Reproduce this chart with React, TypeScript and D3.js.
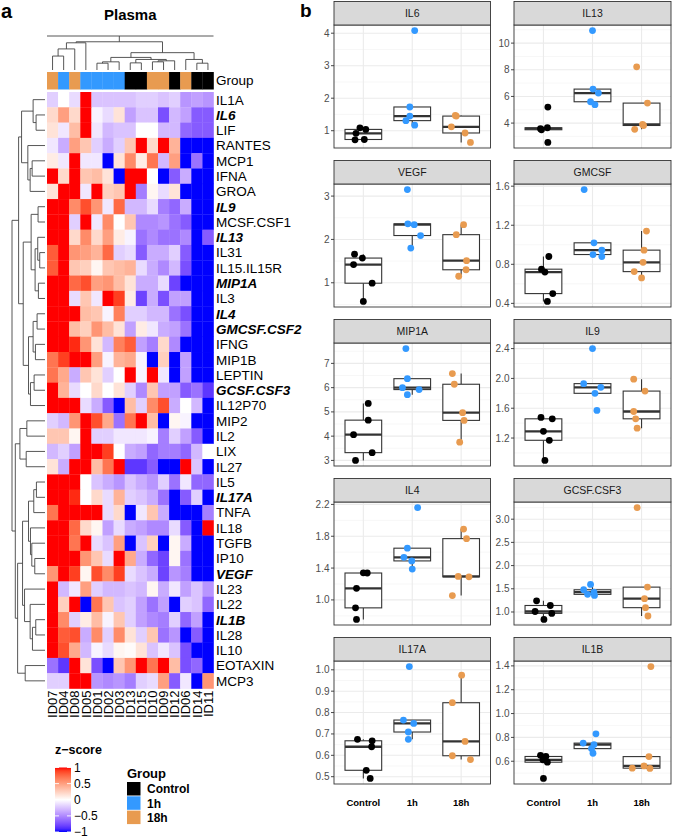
import React from "react";
import * as d3 from "d3";

const FONT = "'Liberation Sans', Arial, Helvetica, sans-serif";

// ---------------- Heatmap data ----------------
const rowNames = [
  "IL1A", "IL6", "LIF", "RANTES", "MCP1", "IFNA", "GROA", "IL9", "MCSF.CSF1", "IL13",
  "IL31", "IL15.IL15R", "MIP1A", "IL3", "IL4", "GMCSF.CSF2", "IFNG", "MIP1B", "LEPTIN", "GCSF.CSF3",
  "IL12P70", "MIP2", "IL2", "LIX", "IL27", "IL5", "IL17A", "TNFA", "IL18", "TGFB",
  "IP10", "VEGF", "IL23", "IL22", "IL1B", "IL28", "IL10", "EOTAXIN", "MCP3",
];
const boldRows = ["IL6", "IL9", "IL13", "MIP1A", "IL4", "GMCSF.CSF2", "GCSF.CSF3", "IL17A", "VEGF", "IL1B"];
const colNames = ["ID07", "ID04", "ID08", "ID05", "ID01", "ID02", "ID03", "ID13", "ID15", "ID10", "ID09", "ID12", "ID06", "ID14", "ID11"];
const colGroups = ["18h", "1h", "18h", "1h", "1h", "1h", "1h", "Control", "Control", "18h", "18h", "Control", "18h", "Control", "Control"];

const zScores = [
  [-0.2, 0, -0.15, 1, -0.25, -0.25, -0.25, -0.25, -0.2, -0.2, -0.25, -0.2, -0.45, -0.4, -0.45],
  [0.2, 0.5, 0.2, 1, -0.05, -0.15, 0.15, -0.4, -0.25, -0.25, -0.75, -0.3, -0.4, -0.7, -0.7],
  [0.15, -0.1, 0.35, 1, -0.1, -0.3, -0.25, -0.25, 0, 0, -0.3, -0.3, -0.65, -0.7, -0.7],
  [-0.1, -0.35, 0.5, 0.3, -0.2, -0.35, -0.2, 0.3, 1, 0.2, 1, 0.4, -1, -1, -1],
  [0.1, -0.1, 1, -0.1, -0.1, -1, 0.15, 0.6, 0.1, 0.7, -0.3, 0.5, -1, -0.6, -1],
  [1, 0.2, 1, 0.3, 0.35, 0.15, -1, 1, 1, 0, -1, -0.7, -0.35, -1, -1],
  [0.15, 1, 1, -0.1, 1, 0.25, 0.3, 1, -0.55, 0.05, -0.15, 0.15, -1, -1, -1],
  [1, 1, 0.6, 0.85, 0.55, -0.1, 0.75, -0.3, -0.3, -0.15, -0.55, -0.65, -0.35, -1, -1],
  [1, 1, -0.2, 1, -0.1, 0.6, 0, 0.3, -0.5, -0.5, -0.45, -0.6, -0.7, -1, -1],
  [1, 1, 0.2, 0.6, 0.2, 0.5, 0.1, -0.05, -0.6, -0.5, -0.6, -0.6, -0.5, -1, -0.7],
  [0.8, 1, 0.55, 0.5, 0.4, 0.75, -0.2, -0.15, -0.7, -0.35, -0.35, -0.2, -0.7, -1, -1],
  [0.8, 1, 0.3, 0.25, 0.05, 0.3, 0.35, 0.4, -0.15, -0.35, -0.5, -0.3, -0.75, -1, -1],
  [1, 1, 0.75, 0.85, 0.5, 0.55, 0.35, 0.15, -0.35, -0.35, -0.15, -0.8, -1, -1, -1],
  [1, 1, -0.15, 0.3, -0.1, 1, 0.9, 0.1, -0.8, -0.35, -0.75, -0.4, -0.4, -1, -1],
  [1, 1, 1, 0.35, 0.3, -0.05, 0.65, -0.2, -0.2, -0.3, -0.3, -0.6, -0.75, -1, -1],
  [1, 1, 0.35, 0.25, 0.55, 0.35, 0.15, -0.4, 0.1, -0.1, -0.35, -0.4, -0.6, -1, -1],
  [1, 1, 0.95, 0.55, 0.15, -0.3, 0.65, 0.8, -0.4, -0.55, 0.2, -0.5, -1, -1, -1],
  [0.7, 0.9, 1, 1, 0.5, -0.05, 0.4, 0.45, -0.05, -1, 0.25, -1, -0.4, -1, -1],
  [0.7, 0.45, -0.35, 0.3, 0.15, -0.2, 0, 1, -0.05, 1, -0.1, -1, -0.4, -1, -1],
  [1, 0.4, -0.15, 0, 0.2, 0, 0.15, -0.2, -0.5, 0.3, -0.4, -0.4, -0.7, -0.6, -0.85],
  [1, 1, 1, -0.15, -0.35, -0.7, -1, 0.35, -0.2, 0.6, 0.85, -0.35, 0, -0.3, -1],
  [-0.2, -0.3, 0.55, 1, 0.85, 0.45, -0.6, 0.7, 1, 0.35, -1, 0.05, -0.05, -1, -1],
  [0.3, 0.3, 0.05, 1, -0.2, -0.2, -0.1, -0.1, -0.1, -0.05, -0.55, -0.2, -0.4, -0.7, -1],
  [-0.3, -0.2, -0.4, 1, 1, 0.9, 0, -0.35, -0.4, -0.65, -0.55, -0.55, -0.65, -0.3, 0],
  [0.15, -0.35, 1, 1, 0.35, 0.7, 1, -0.85, -0.85, -0.7, -1, -1, 1, -0.25, -1],
  [1, 1, 1, 0, -0.25, -0.35, -0.45, -0.25, -0.35, -0.45, -0.2, -0.6, -0.1, -0.65, -0.65],
  [1, 1, 0.95, 0, 0.2, -0.15, 0.4, -0.2, -0.25, -0.35, -0.6, -1, -0.7, -0.2, -1],
  [0.7, 1, 1, 1, 1, -0.15, 0.2, -1, -0.1, 0.3, -0.35, -1, -1, -1, -0.55],
  [1, 1, 0.75, 0.2, 0.05, -0.4, -0.15, -0.35, -0.4, -0.5, -0.5, -0.15, -0.7, -1, 1],
  [1, 1, 0.7, 1, -0.15, -0.25, 0.5, -1, -0.25, 0.25, -1, 0.05, -0.35, -1, -1],
  [1, 1, 1, 0.55, 0.3, -0.15, 1, 0.45, -0.35, -0.65, -0.8, 0.05, -0.6, -1, -1],
  [0.55, 1, 0.9, 0.05, 0.85, 0.6, 0.9, -0.15, -0.25, -0.35, -0.8, -0.45, -0.55, -1, -1],
  [1, -0.3, -0.1, 0.5, -0.2, -0.3, -0.3, -0.25, -0.3, 0.05, -0.35, -0.1, -0.4, -0.25, -0.45],
  [1, 0.25, 1, -1, 0.7, 0.3, -0.25, -0.2, -0.4, -0.6, -0.4, -1, -0.2, -0.25, -0.65],
  [1, 0.6, -0.2, 0.1, 0.35, -0.05, 0.3, -0.2, -0.4, -0.5, -0.55, -0.2, -0.65, -0.4, -1],
  [1, 0.8, 0.85, -0.35, 0.6, -0.2, 0.6, 0.15, -0.2, 0.3, -0.6, -0.45, -1, -0.7, -1],
  [1, 0.85, 0.45, -0.3, -0.05, -0.15, 0.05, 0.02, 0.15, -0.25, -0.1, -0.25, -0.75, -1, -1],
  [-0.6, -0.85, 1, 0.15, -0.75, -1, 0.3, 0.55, 1, 0.7, 1, 0.35, -0.75, -0.65, -1],
  [-0.2, -0.2, 1, 1, -0.45, -0.5, -0.45, -0.55, -0.2, -0.15, 0.5, -0.7, -0.1, -1, 0.55],
];

// Dendrograms: [mergeHeight, left, right] or leaf name
type Tree = string | [number, Tree, Tree];
const rowTree: Tree = [10,
  [8.0,
    [7.1,
      [3.6, "IL1A", [2.7, "IL6", "LIF"]],
      [5.2, "RANTES", [4.5, [3.9, "MCP1", "IFNA"], "GROA"]]],
    [6.6,
      [4.2,
        [2.1, "IL9", "MCSF.CSF1"],
        [3.0, [2.2, "IL13", [1.6, "IL31", "IL15.IL15R"]], [2.0, "MIP1A", "IL3"]]],
      [5.0,
        [3.6, [2.4, "IL4", "GMCSF.CSF2"], [2.9, "IFNG", "MIP1B"]],
        [4.4, [3.3, "LEPTIN", "GCSF.CSF3"], "IL12P70"]]]],
  [9.0,
    [7.6, [5.5, "MIP2", "IL2"], [5.7, "LIX", "IL27"]],
    [8.3,
      [6.8,
        [5.0, [3.4, [2.6, "IL5", "IL17A"], "TNFA"], [4.4, "IL18", [4.0, "TGFB", [3.1, "IP10", "VEGF"]]]],
        [6.2, "IL23", [4.5, "IL22", [3.8, [2.8, "IL1B", "IL28"], "IL10"]]]],
      [6.0, "EOTAXIN", "MCP3"]]]];

const colTree: Tree = [8.3,
  [8.0, [6.2, [4.1, "ID07", "ID04"], "ID08"], "ID05"],
  [5.1,
    [3.7,
      [2.4, [2.0, "ID01", "ID02"], "ID03"],
      [3.1, [2.1, "ID13", "ID15"], [2.7, [2.4, "ID10", "ID09"], "ID12"]]],
    [3.1, "ID06", [2.0, "ID14", "ID11"]]]];
const colTreeTop = 10;

const groupNames = ["Control", "1h", "18h"];
const groupColors = ["#000000", "#3399FF", "#E89B50"];

const legendTicks = [1, 0.5, 0, -0.5, -1];

// ---------------- Boxplot data ----------------
const panelNames = ["IL6", "IL13", "VEGF", "GMCSF", "MIP1A", "IL9", "IL4", "GCSF.CSF3", "IL17A", "IL1B"];

const IL6_VALUES = [[1.09, 1.04, 0.92, 0.73, 0.72], [4.08, 1.73, 1.45, 1.31, 1.17], [1.47, 1.45, 1.12, 0.93, 0.64]];
const IL6_JITTER = [[-0.07, 0.05, -0.15, 0.02, -0.17], [0.05, -0.05, -0.05, -0.13, 0.05], [-0.12, -0.1, -0.2, 0.08, 0.19]];
const IL6_TICKS = [1, 2, 3, 4];

const IL13_VALUES = [[5.2, 3.65, 3.58, 3.5, 2.55], [10.94, 6.55, 6.25, 5.6, 5.38], [8.22, 5.5, 3.9, 3.82, 3.53]];
const IL13_JITTER = [[0.09, 0.08, -0.06, -0.04, 0.09], [0, 0.01, 0.12, -0.04, 0.05], [-0.1, 0.12, 0.02, 0.04, -0.14]];
const IL13_TICKS = [4, 6, 8, 10];

const VEGF_VALUES = [[1.66, 1.57, 1.42, 0.99, 0.57], [3.15, 2.36, 2.34, 2.09, 1.8], [2.34, 2.11, 1.51, 1.3, 1.15]];
const VEGF_JITTER = [[-0.18, -0.02, -0.2, 0.18, 0], [-0.1, -0.09, 0.04, 0.17, -0.03], [0.05, -0.1, 0.11, 0.1, -0.05]];
const VEGF_TICKS = [1, 2, 3];

const GMCSF_VALUES = [[0.88, 0.75, 0.72, 0.5, 0.42], [1.565, 1.02, 0.945, 0.9, 0.88], [1.14, 0.945, 0.82, 0.725, 0.66]];
const GMCSF_JITTER = [[0.11, -0.04, 0.03, 0.19, 0.08], [-0.17, 0.03, 0.19, 0.01, 0.19], [0.1, 0.05, 0.03, -0.15, 0]];
const GMCSF_TICKS = [0.4, 0.8, 1.2, 1.6];

const MIP1A_VALUES = [[5.35, 4.66, 4.06, 3.32, 3.0], [7.61, 6.37, 6.0, 5.92, 5.71], [6.58, 6.14, 4.97, 4.65, 3.75]];
const MIP1A_JITTER = [[0.1, 0.1, -0.2, 0.18, -0.16], [-0.13, -0.1, -0.2, 0.14, -0.1], [-0.18, -0.14, 0.03, 0.06, -0.03]];
const MIP1A_TICKS = [3, 4, 5, 6, 7];

const IL9_VALUES = [[1.476, 1.458, 1.29, 1.17, 0.9], [2.4, 1.93, 1.88, 1.8, 1.57], [1.99, 1.83, 1.556, 1.458, 1.333]];
const IL9_JITTER = [[-0.05, 0.18, 0, 0.12, 0.03], [0, -0.18, 0.17, 0.05, 0.09], [-0.16, 0.07, -0.16, -0.12, -0.09]];
const IL9_TICKS = [1.2, 1.6, 2.0, 2.4];

const IL4_VALUES = [[1.34, 1.338, 1.145, 0.9, 0.755], [2.16, 1.65, 1.535, 1.49, 1.387], [1.89, 1.77, 1.295, 1.29, 1.054]];
const IL4_JITTER = [[0, 0.08, -0.14, -0.16, -0.14], [0.11, -0.1, -0.17, -0.01, 0], [0.05, 0.11, -0.06, 0.16, -0.18]];
const IL4_TICKS = [1.0, 1.4, 1.8, 2.2];

const GCSF_VALUES = [[1.24, 1.14, 1.01, 0.97, 0.84], [1.593, 1.479, 1.43, 1.38, 1.357], [3.25, 1.536, 1.286, 1.093, 0.914]];
const GCSF_JITTER = [[-0.14, 0.14, -0.17, 0.17, 0.01], [-0.04, -0.18, 0.03, -0.1, 0.04], [-0.09, 0.12, 0.06, 0.08, 0.13]];
const GCSF_TICKS = [1.0, 1.5, 2.0, 2.5, 3.0];

const IL17A_VALUES = [[0.675, 0.668, 0.64, 0.53, 0.492], [1.015, 0.765, 0.749, 0.709, 0.675], [0.975, 0.846, 0.665, 0.598, 0.58]];
const IL17A_JITTER = [[-0.12, 0.18, 0.17, 0.06, 0.14], [-0.06, -0.18, 0.03, -0.08, -0.08], [0.01, -0.18, 0.08, -0.18, 0.19]];
const IL17A_TICKS = [0.5, 0.6, 0.7, 0.8, 0.9, 1.0];

const IL1B_VALUES = [[0.65, 0.64, 0.612, 0.592, 0.456], [0.83, 0.752, 0.74, 0.706, 0.667], [1.394, 0.639, 0.561, 0.542, 0.54]];
const IL1B_JITTER = [[-0.06, 0.05, -0.01, 0.08, 0], [0.07, -0.19, 0.03, -0.02, 0.01], [0.19, 0.15, 0.05, -0.19, 0.17]];
const IL1B_TICKS = [0.6, 0.8, 1.0, 1.2, 1.4];

const panelValues = [IL6_VALUES, IL13_VALUES, VEGF_VALUES, GMCSF_VALUES, MIP1A_VALUES, IL9_VALUES, IL4_VALUES, GCSF_VALUES, IL17A_VALUES, IL1B_VALUES];
const panelJitter = [IL6_JITTER, IL13_JITTER, VEGF_JITTER, GMCSF_JITTER, MIP1A_JITTER, IL9_JITTER, IL4_JITTER, GCSF_JITTER, IL17A_JITTER, IL1B_JITTER];
const panelTicks = [IL6_TICKS, IL13_TICKS, VEGF_TICKS, GMCSF_TICKS, MIP1A_TICKS, IL9_TICKS, IL4_TICKS, GCSF_TICKS, IL17A_TICKS, IL1B_TICKS];
const panelTickDigits = [0, 0, 0, 1, 0, 1, 1, 1, 1, 1];

// ---------------- helpers ----------------
type Seg = { p1: number; h1: number; p2: number; h2: number };
function layoutTree(node: Tree, posOf: (n: string) => number): { p: number; h: number; segs: Seg[] } {
  if (typeof node === "string") return { p: posOf(node), h: 0, segs: [] };
  const [h, a, b] = node;
  const A = layoutTree(a, posOf);
  const B = layoutTree(b, posOf);
  const segs = [
    ...A.segs,
    ...B.segs,
    { p1: A.p, h1: h, p2: B.p, h2: h },
    { p1: A.p, h1: A.h, p2: A.p, h2: h },
    { p1: B.p, h1: B.h, p2: B.p, h2: h },
  ];
  return { p: (A.p + B.p) / 2, h, segs };
}

const heatColor = d3
  .scaleLinear<string>()
  .domain([-1, 0, 1])
  .range(["#0000FF", "#FFFFFF", "#FF0000"])
  .interpolate(d3.interpolateLab)
  .clamp(true);

const groupColor = d3.scaleOrdinal<string, string>().domain(groupNames).range(groupColors);

function Heatmap() {
  const hmLeft = 47, hmRight = 213.5, hmTop = 92, hmBottom = 688.5;
  const x = d3.scaleBand<string>().domain(colNames).range([hmLeft, hmRight]);
  const y = d3.scaleBand<string>().domain(rowNames).range([hmTop, hmBottom]);
  const colH = d3.scaleLinear().domain([0, colTreeTop]).range([70, 36]);
  const rowH = d3.scaleLinear().domain([0, 10]).range([45, 12]);

  const colDen = layoutTree(colTree, (n) => (x(n) as number) + x.bandwidth() / 2);
  const rowDen = layoutTree(rowTree, (n) => (y(n) as number) + y.bandwidth() / 2);

  const lg = d3.scaleLinear().domain([1, -1]).range([767.5, 832]);
  const stops = d3.range(0, 21).map((i) => 1 - i / 10);

  return (
    <g fontFamily={FONT}>
      <text x={1} y={18} fontSize={20} fontWeight="bold">a</text>
      <text x={(hmLeft + hmRight) / 2} y={20} fontSize={15} fontWeight="bold" textAnchor="middle">Plasma</text>

      {/* column dendrogram */}
      <g stroke="#444" strokeWidth={0.9} fill="none">
        <line x1={hmLeft} x2={hmRight} y1={colH(colTreeTop)} y2={colH(colTreeTop)} />
        <line x1={colDen.p} x2={colDen.p} y1={colH(colDen.h)} y2={colH(colTreeTop)} />
        {colDen.segs.map((s, i) => (
          <line key={i} x1={s.p1} x2={s.p2} y1={colH(s.h1)} y2={colH(s.h2)} />
        ))}
      </g>

      {/* group bar */}
      {colNames.map((c, i) => (
        <rect key={c} x={x(c)} y={72} width={x.bandwidth() + 0.3} height={17.5} fill={groupColor(colGroups[i])} />
      ))}
      <text x={216} y={85} fontSize={13.5}>Group</text>

      {/* row dendrogram */}
      <g stroke="#444" strokeWidth={0.9} fill="none">
        {rowDen.segs.map((s, i) => (
          <line key={i} x1={rowH(s.h1)} x2={rowH(s.h2)} y1={s.p1} y2={s.p2} />
        ))}
      </g>

      {/* cells */}
      {rowNames.map((r, ri) =>
        colNames.map((c, ci) => (
          <rect
            key={r + c}
            x={x(c)}
            y={y(r)}
            width={x.bandwidth() + 0.3}
            height={y.bandwidth() + 0.3}
            fill={heatColor(zScores[ri][ci])}
          />
        ))
      )}

      {/* row labels */}
      {rowNames.map((r) => {
        const b = boldRows.includes(r);
        return (
          <text
            key={r}
            x={216}
            y={(y(r) as number) + y.bandwidth() / 2}
            dy="0.36em"
            fontSize={13.5}
            fontWeight={b ? "bold" : "normal"}
            fontStyle={b ? "italic" : "normal"}
          >
            {r}
          </text>
        );
      })}

      {/* column labels */}
      {colNames.map((c) => {
        const cx = (x(c) as number) + x.bandwidth() / 2;
        return (
          <text
            key={c}
            transform={`translate(${cx},${hmBottom + 2}) rotate(-90)`}
            textAnchor="end"
            dy="0.36em"
            fontSize={13}
          >
            {c}
          </text>
        );
      })}

      {/* z-score legend */}
      <defs>
        <linearGradient id="zgrad" x1="0" x2="0" y1="0" y2="1">
          {stops.map((v, i) => (
            <stop key={i} offset={`${(i / (stops.length - 1)) * 100}%`} stopColor={heatColor(v)} />
          ))}
        </linearGradient>
      </defs>
      <text x={55} y={754} fontSize={12.5} fontWeight="bold">z−score</text>
      <rect x={55} y={lg(1)} width={16} height={lg(-1) - lg(1)} fill="url(#zgrad)" />
      {legendTicks.map((t) => (
        <g key={t}>
          <line x1={55} x2={59} y1={lg(t)} y2={lg(t)} stroke="#fff" strokeWidth={0.9} />
          <line x1={67} x2={71} y1={lg(t)} y2={lg(t)} stroke="#fff" strokeWidth={0.9} />
          <text x={74} y={lg(t)} dy="0.36em" fontSize={12}>
            {t < 0 ? "−" + Math.abs(t) : String(t)}
          </text>
        </g>
      ))}

      {/* group legend */}
      <text x={127} y={778} fontSize={13} fontWeight="bold">Group</text>
      {groupNames.map((g, i) => (
        <g key={g}>
          <rect x={127} y={782} width={13.5} height={13.5} fill={groupColor(g)} transform={`translate(0,${i * 14.3})`} />
          <text x={147} y={789 + i * 14.3} dy="0.36em" fontSize={12} fontWeight="bold">{g}</text>
        </g>
      ))}
    </g>
  );
}

function BoxPanel({ idx }: { idx: number }) {
  const col = idx % 2;
  const row = Math.floor(idx / 2);
  const left = col === 0 ? 334 : 514;
  const right = col === 0 ? 490.5 : 671;
  const stripTop = 1.5 + row * 159;
  const top = stripTop + 23.5;
  const bottom = stripTop + 146.5;
  const values = panelValues[idx];
  const jitter = panelJitter[idx];
  const ticks = panelTicks[idx];
  const all = values.flat();
  const [mn, mx] = d3.extent(all) as [number, number];
  const pad = (mx - mn) * 0.05;
  const y = d3.scaleLinear().domain([mn - pad, mx + pad]).range([bottom, top]);
  const x = d3.scalePoint<string>().domain(groupNames).range([left, right]).padding(0.6);
  const step = x.step();
  const dt = ticks[1] - ticks[0];
  const minor = [ticks[0] - dt / 2, ...ticks.map((t) => t + dt / 2)].filter(
    (v) => v > mn - pad && v < mx + pad
  );
  const fmt = d3.format(`.${panelTickDigits[idx]}f`);
  const isBottom = row === 4;

  return (
    <g fontFamily={FONT}>
      <rect x={left} y={top} width={right - left} height={bottom - top} fill="#fff" />
      {minor.map((m, i) => (
        <line key={"mn" + i} x1={left} x2={right} y1={y(m)} y2={y(m)} stroke="#F2F2F2" strokeWidth={0.6} />
      ))}
      {ticks.map((t) => (
        <line key={"mj" + t} x1={left} x2={right} y1={y(t)} y2={y(t)} stroke="#EBEBEB" strokeWidth={1.1} />
      ))}
      {groupNames.map((g) => (
        <line key={"vx" + g} x1={x(g)} x2={x(g)} y1={top} y2={bottom} stroke="#EBEBEB" strokeWidth={1.1} />
      ))}

      {values.map((vals, gi) => {
        const s = [...vals].sort(d3.ascending);
        const q1 = d3.quantile(s, 0.25) as number;
        const med = d3.quantile(s, 0.5) as number;
        const q3 = d3.quantile(s, 0.75) as number;
        const iqr = q3 - q1;
        const lo = d3.min(s.filter((v) => v >= q1 - 1.5 * iqr)) as number;
        const hi = d3.max(s.filter((v) => v <= q3 + 1.5 * iqr)) as number;
        const cx = x(groupNames[gi]) as number;
        const bw = step * 0.75;
        return (
          <g key={"box" + gi} stroke="#333" fill="none">
            <line x1={cx} x2={cx} y1={y(q3)} y2={y(hi)} strokeWidth={1.1} />
            <line x1={cx} x2={cx} y1={y(q1)} y2={y(lo)} strokeWidth={1.1} />
            <rect x={cx - bw / 2} y={y(q3)} width={bw} height={y(q1) - y(q3)} fill="#fff" strokeWidth={1.1} />
            <line x1={cx - bw / 2} x2={cx + bw / 2} y1={y(med)} y2={y(med)} strokeWidth={2.3} />
          </g>
        );
      })}

      {values.map((vals, gi) =>
        vals.map((v, pi) => (
          <circle
            key={"pt" + gi + "-" + pi}
            cx={(x(groupNames[gi]) as number) + jitter[gi][pi] * step}
            cy={y(v)}
            r={3.4}
            fill={groupColors[gi]}
          />
        ))
      )}

      <rect x={left} y={top} width={right - left} height={bottom - top} fill="none" stroke="#333" strokeWidth={0.9} />
      <rect x={left} y={stripTop} width={right - left} height={top - stripTop} fill="#D9D9D9" stroke="#333" strokeWidth={0.9} />
      <text x={(left + right) / 2} y={stripTop + 15.5} textAnchor="middle" fontSize={10.5} fill="#1A1A1A">
        {panelNames[idx]}
      </text>

      {ticks.map((t) => (
        <g key={"tk" + t}>
          <line x1={left - 3} x2={left} y1={y(t)} y2={y(t)} stroke="#333" strokeWidth={0.9} />
          <text x={left - 4.5} y={y(t)} dy="0.35em" textAnchor="end" fontSize={10} fill="#4D4D4D">
            {fmt(t)}
          </text>
        </g>
      ))}

      {isBottom &&
        groupNames.map((g) => (
          <text key={"xl" + g} x={x(g)} y={bottom + 22} textAnchor="middle" fontSize={9.5} fontWeight="bold" fill="#000">
            {g}
          </text>
        ))}
    </g>
  );
}

export default function App() {
  return (
    <svg
      width={673}
      height={839}
      style={{ position: "absolute", left: 0, top: 0, background: "#fff" }}
    >
      <rect x={0} y={0} width={673} height={839} fill="#fff" />
      <Heatmap />
      <text x={300} y={17} fontSize={19} fontWeight="bold" fontFamily={FONT}>b</text>
      {panelNames.map((_, i) => (
        <BoxPanel key={i} idx={i} />
      ))}
    </svg>
  );
}
